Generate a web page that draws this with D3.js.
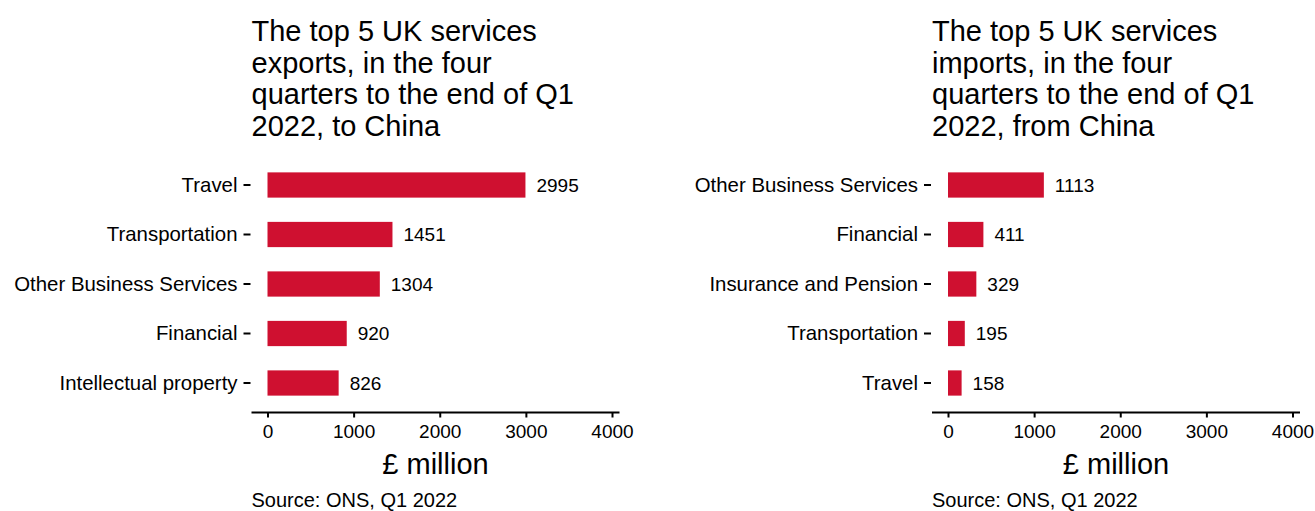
<!DOCTYPE html>
<html><head><meta charset="utf-8">
<script src="https://cdn.jsdelivr.net/npm/d3@7"></script>
<style>body{margin:0;background:#fff;}svg{display:block;font-family:"Liberation Sans",Arial,sans-serif;}</style>
</head><body><svg id="c" width="1315" height="511"></svg>
<script>
const exportCategories = ["Travel","Transportation","Other Business Services","Financial","Intellectual property"];
const exportValues = [2995,1451,1304,920,826];
const importCategories = ["Other Business Services","Financial","Insurance and Pension","Transportation","Travel"];
const importValues = [1113,411,329,195,158];
const xTicks = [0,1000,2000,3000,4000];
const exportTitle = ["The top 5 UK services","exports, in the four","quarters to the end of Q1","2022, to China"];
const importTitle = ["The top 5 UK services","imports, in the four","quarters to the end of Q1","2022, from China"];
const xLabel = "£ million";
const sourceText = "Source: ONS, Q1 2022";

const svg = d3.select("#c");
const barColor = "#cf1030";
const FF = '"Liberation Sans",Arial,sans-serif';

function panel(x0, cats, vals, title){
  const g = svg.append("g");
  const x = d3.scaleLinear().domain([0,4000]).range([x0, x0+344.5]);
  const y = d3.scaleBand().domain(cats).range([160, 408]).paddingInner(0.49).paddingOuter(0.25);
  // title
  const t = g.append("text").attr("x", x0-16).attr("y", 41).attr("font-size", 29).attr("fill","#000");
  title.forEach((l,i)=> t.append("tspan").attr("x", x0-16).attr("dy", i===0?0:31.7).text(l));
  // bars
  g.selectAll("rect").data(vals).join("rect")
    .attr("x", x(0)).attr("y",(d,i)=>y(cats[i]))
    .attr("width", d=>x(d)-x(0)).attr("height", y.bandwidth()).attr("fill", barColor);
  g.selectAll("text.v").data(vals).join("text").attr("class","v")
    .attr("x", d=>x(d)+11).attr("y",(d,i)=>y(cats[i])+y.bandwidth()/2).attr("dy","0.36em")
    .attr("font-size",19).text(d=>d);
  // y axis
  const ya = g.append("g").attr("transform",`translate(${x0-17},0)`)
    .call(d3.axisLeft(y).tickSize(7).tickPadding(6));
  ya.select(".domain").remove();
  ya.selectAll("line").attr("stroke","#000").attr("stroke-width",2);
  ya.selectAll("text").attr("font-size",20.4).attr("fill","#000").attr("font-family",FF);
  // x axis
  const xa = g.append("g").attr("transform","translate(0,412.5)")
    .call(d3.axisBottom(x).tickValues(xTicks).tickFormat(d3.format("d")).tickSize(5).tickPadding(7).tickSizeOuter(0));
  xa.select(".domain").attr("d", `M${x0-16},0H${x0+352}`).attr("stroke","#000").attr("stroke-width",2);
  xa.selectAll("line").attr("stroke","#000").attr("stroke-width",2);
  xa.selectAll("text").attr("font-size",19).attr("fill","#000").attr("font-family",FF);
  g.append("text").attr("x", x0+168).attr("y",474).attr("text-anchor","middle").attr("font-size",29).text(xLabel);
  g.append("text").attr("x", x0-16).attr("y",507).attr("font-size",20).text(sourceText);
}
panel(267.5, exportCategories, exportValues, exportTitle);
panel(948, importCategories, importValues, importTitle);
</script></body></html>
